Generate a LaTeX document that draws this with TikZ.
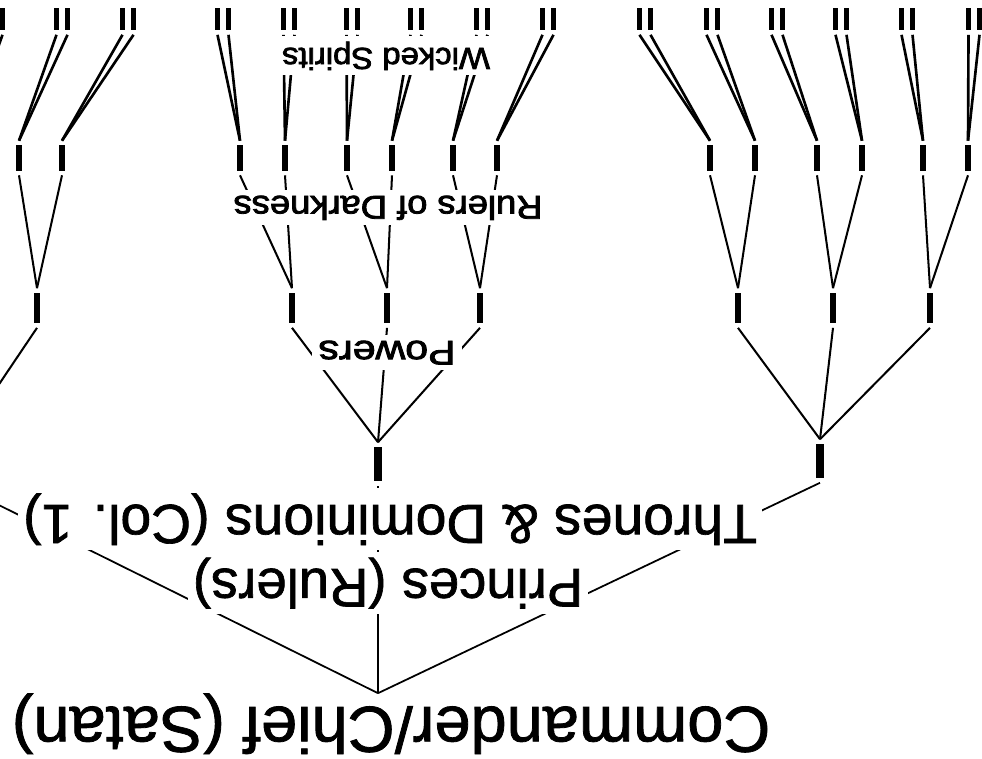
\documentclass[tikz,border=0pt]{standalone}
\usepackage{fontspec}
\setmainfont{Liberation Sans}[FakeBold=1.2]
\newfontfamily\rankfont{Liberation Sans}[FakeBold=2.4]
\begin{document}
\begin{tikzpicture}[x=0.02cm,y=-0.02cm,
        rank/.style 2 args={fill=black,inner sep=0pt,outer sep=2.5pt,minimum width=#1,minimum height=#2},
        tie/.style={line width=1.15pt},
        twin/.style={line width=1.5pt},
        banner/.style={rotate=180,anchor=base,fill=white,inner sep=3pt}]
        \useasboundingbox (0,0) rectangle (982,759);
        \clip (0,0) rectangle (982,759);
        %% Commander/Chief
        \node[banner,inner sep=0pt,font=\fontsize{37}{40}\selectfont] (chief) at (391,707) {Commander/Chief (Satan)};
        %% Thrones & Dominions
        \node[rank={4.5pt}{19.8pt}] (td1) at (-40,464) {};
        \node[rank={4.5pt}{19.8pt}] (td2) at (378,464) {};
        \node[rank={4.5pt}{19.8pt}] (td3) at (820,461) {};
        \foreach \t in {td1,td2,td3}
            \draw[line width=1pt] (chief.south -| td2) -- (\t.south);
        %% Powers
        \foreach \x/\p [count=\i] in {-57/td1,37/td1,292/td2,387/td2,480/td2,738/td3,833/td3,930/td3} {
            \node[rank={3.4pt}{17.6pt}] (pw\i) at (\x,308) {};
            \draw[tie] (\p.north) -- (pw\i.south);
        }
        %% Rulers of Darkness
        \foreach \x/\p [count=\i] in {-35/pw1,19/pw2,62/pw2,240/pw3,285/pw3,347/pw4,392/pw4,453/pw5,497/pw5,710/pw6,755/pw6,817/pw7,862/pw7,923/pw8,968/pw8} {
            \node[rank={2.9pt}{14.7pt}] (rd\i) at (\x,158) {};
            \draw[tie] (\p.north) -- (rd\i.south);
        }
        %% Wicked Spirits (pairs)
        \foreach \x [count=\i] in {-3,62,128,223,289,352,416,482,548,645,712,777,841,907,974} {
            \node[rank={2.6pt}{13pt}] (ws\i l) at (\x-5.5,19) {};
            \node[rank={2.6pt}{13pt}] (ws\i r) at (\x+5.5,19) {};
            \draw[twin] (rd\i.north) -- (ws\i l.south);
            \draw[twin] (rd\i.north) -- (ws\i r.south);
        }
        %% Rank names
        \node[banner,font=\fontsize{31.5}{36}\selectfont] (thrones) at (390,505) {Thrones \& Dominions (Col. 1)};
        \node[banner,font=\fontsize{31}{34}\selectfont] (princes) at (388,569) {Princes (Rulers)};
        \node[banner,xscale=1.2,font=\rankfont\fontsize{19.5}{21}\selectfont] (powers) at (387,341) {Powers};
        \node[banner,xscale=1.1,font=\rankfont\fontsize{18.8}{20}\selectfont] (darkness) at (388,196) {Rulers of Darkness};
        \node[banner,xscale=1.08,font=\rankfont\fontsize{17.3}{19}\selectfont] (spirits) at (386,48) {Wicked Spirits};
\end{tikzpicture}
\end{document}
